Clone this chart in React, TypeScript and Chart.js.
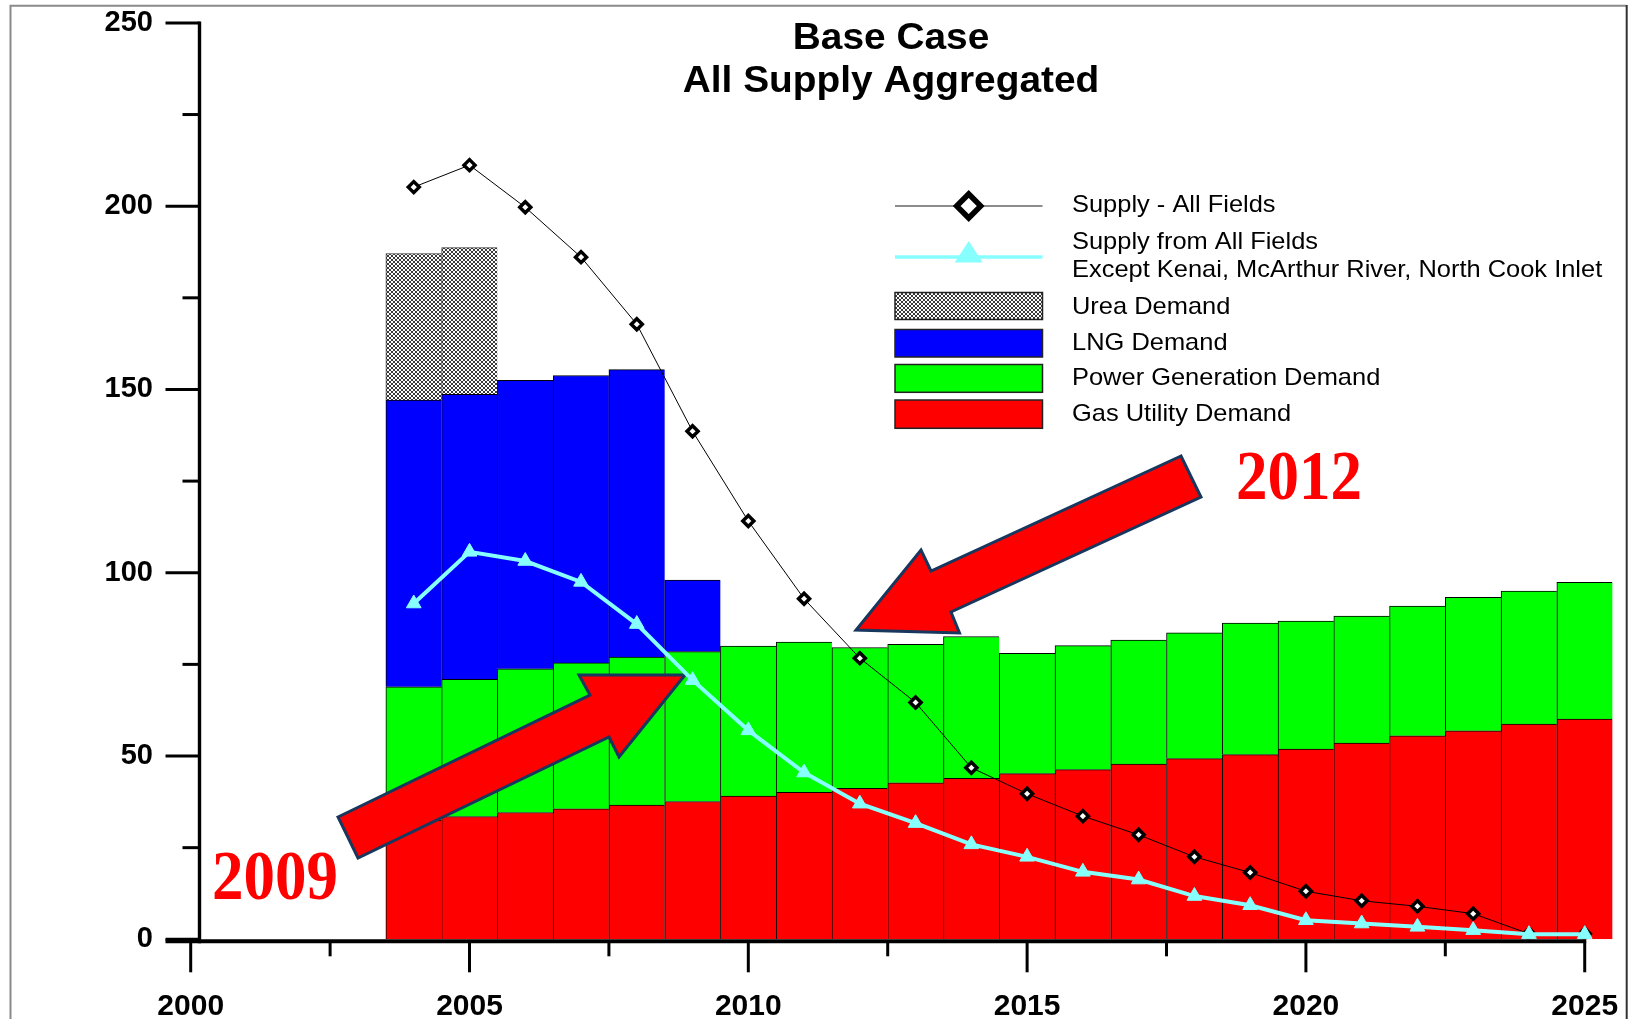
import React, { useEffect, useRef } from 'react';
import { Chart, registerables } from 'chart.js';

Chart.register(...registerables);

// ---------------- data ----------------
const YEARS = [2004, 2005, 2006, 2007, 2008, 2009, 2010, 2011, 2012, 2013, 2014, 2015, 2016, 2017, 2018, 2019, 2020, 2021, 2022, 2023, 2024, 2025];

const GAS_UTILITY_DEMAND = [32.5, 33.5, 34.6, 35.6, 36.6, 37.6, 39.1, 40.1, 41.2, 42.7, 43.9, 45.2, 46.3, 47.8, 49.3, 50.4, 51.9, 53.5, 55.5, 56.9, 58.7, 60.1];
const POWER_GENERATION_DEMAND = [36.4, 37.4, 39.2, 39.8, 40.4, 40.9, 40.9, 41.0, 38.4, 37.8, 38.7, 32.8, 33.8, 33.8, 34.3, 35.9, 34.9, 34.7, 35.4, 36.4, 36.3, 37.3];
const LNG_DEMAND = [78.2, 77.8, 78.7, 78.4, 78.4, 19.5, null, null, null, null, null, null, null, null, null, null, null, null, null, null, null, null];
const UREA_DEMAND = [40.0, 40.0, null, null, null, null, null, null, null, null, null, null, null, null, null, null, null, null, null, null, null, null];

const SUPPLY_ALL_FIELDS = [205.2, 211.2, 199.7, 186.1, 167.8, 138.6, 114.1, 92.9, 76.7, 64.6, 46.8, 39.7, 33.6, 28.5, 22.5, 18.2, 13.1, 10.5, 9.0, 7.0, 1.5, 1.5];
const SUPPLY_EXCEPT = [91.6, 105.7, 103.2, 97.5, 86.0, 70.7, 57.0, 45.5, 37.0, 31.7, 25.9, 22.5, 18.4, 16.3, 11.8, 9.3, 5.2, 4.3, 3.4, 2.5, 1.4, 1.4];

const X_TICKS = [2000, 2005, 2010, 2015, 2020, 2025];
const X_MINOR_TICKS = [2002.5, 2007.5, 2012.5, 2017.5, 2022.5];
const Y_TICKS = [0, 50, 100, 150, 200, 250];
const Y_MINOR_TICKS = [25, 75, 125, 175, 225];

const TITLE_LINES = ['Base Case', 'All Supply Aggregated'];
const LABEL_SUPPLY_ALL = 'Supply - All Fields';
const LABEL_SUPPLY_EXCEPT = ['Supply from All Fields', 'Except Kenai, McArthur River, North Cook Inlet'];
const LABEL_UREA = 'Urea Demand';
const LABEL_LNG = 'LNG Demand';
const LABEL_POWER = 'Power Generation Demand';
const LABEL_GAS = 'Gas Utility Demand';
const NOTE_2009 = '2009';
const NOTE_2012 = '2012';

// ---------------- styles ----------------
const RED = '#FF0000';
const GREEN = '#00FF00';
const BLUE = '#0000FF';
const CYAN = '#88FFFF';
const ARROW_EDGE = '#17375E';
const SANS = '"Liberation Sans", Arial, sans-serif';
const SERIF = '"Liberation Serif", "Times New Roman", serif';

const W = 1632;
const H = 1019;

// annotation arrows (page pixels)
const ARROW_A: [number, number][] = [[338, 817], [590, 695], [579, 675], [685, 675], [619, 757], [609, 737], [358, 858]];
const ARROW_B: [number, number][] = [[1181, 456], [931, 571], [921, 550], [856, 630], [959.5, 633], [951, 612], [1201, 497]];

function toPts(vals: (number | null)[]) {
  return YEARS.map((x, i) => ({ x, y: vals[i] }));
}

function makeHatch(ctx: CanvasRenderingContext2D) {
  const pc = document.createElement('canvas');
  pc.width = 4;
  pc.height = 4;
  const p = pc.getContext('2d')!;
  p.fillStyle = '#ffffff';
  p.fillRect(0, 0, 4, 4);
  p.fillStyle = '#3a3a3a';
  for (let i = 0; i < 4; i++) {
    p.fillRect(i, i, 1, 1);
    p.fillRect(3 - i, i, 1, 1);
  }
  return ctx.createPattern(pc, 'repeat')!;
}

function polygon(ctx: CanvasRenderingContext2D, pts: [number, number][]) {
  ctx.beginPath();
  pts.forEach(([x, y], i) => (i ? ctx.lineTo(x, y) : ctx.moveTo(x, y)));
  ctx.closePath();
  ctx.fillStyle = RED;
  ctx.fill();
  ctx.lineWidth = 3;
  ctx.lineJoin = 'miter';
  ctx.strokeStyle = ARROW_EDGE;
  ctx.stroke();
}

function scaledText(ctx: CanvasRenderingContext2D, text: string, x: number, y: number, sx: number, sy = 1) {
  ctx.save();
  ctx.translate(x, y);
  ctx.scale(sx, sy);
  ctx.fillText(text, 0, 0);
  ctx.restore();
}

export default function App() {
  const ref = useRef<HTMLCanvasElement | null>(null);

  useEffect(() => {
    document.body.style.margin = '0';
    document.body.style.overflow = 'hidden';
    const canvas = ref.current!;
    const ctx0 = canvas.getContext('2d')!;
    const hatch = makeHatch(ctx0);

    const overlay = {
      id: 'overlay',
      beforeDatasetsDraw(chart: any) {
        chart.$arrowsDone = false;
      },
      beforeDatasetDraw(chart: any, args: any) {
        if (!chart.$arrowsDone && args.meta.type === 'line') {
          const ctx = chart.ctx as CanvasRenderingContext2D;
          ctx.save();
          polygon(ctx, ARROW_A);
          polygon(ctx, ARROW_B);
          ctx.restore();
          chart.$arrowsDone = true;
        }
      },
      afterDraw(chart: any) {
        const ctx = chart.ctx as CanvasRenderingContext2D;
        const xs = chart.scales.x;
        const ys = chart.scales.y;
        const area = chart.chartArea;
        ctx.save();

        // axes
        const axisX = area.left + 8.8;
        const base = area.bottom;
        ctx.strokeStyle = '#000';
        ctx.lineCap = 'butt';
        ctx.lineWidth = 3.4;
        ctx.beginPath();
        ctx.moveTo(axisX, ys.getPixelForValue(250) - 1.5);
        ctx.lineTo(axisX, base + 4);
        ctx.stroke();
        ctx.lineWidth = 3;
        Y_TICKS.forEach((v) => {
          const y = ys.getPixelForValue(v);
          ctx.beginPath();
          ctx.moveTo(axisX - 34, y);
          ctx.lineTo(axisX, y);
          ctx.stroke();
        });
        Y_MINOR_TICKS.forEach((v) => {
          const y = ys.getPixelForValue(v);
          ctx.beginPath();
          ctx.moveTo(axisX - 17, y);
          ctx.lineTo(axisX, y);
          ctx.stroke();
        });
        ctx.lineWidth = 4;
        ctx.beginPath();
        ctx.moveTo(axisX - 34, base + 2);
        ctx.lineTo(xs.getPixelForValue(2025) + 1.5, base + 2);
        ctx.stroke();
        ctx.lineWidth = 3;
        X_TICKS.forEach((v) => {
          const x = xs.getPixelForValue(v);
          ctx.beginPath();
          ctx.moveTo(x, base + 2);
          ctx.lineTo(x, base + 33);
          ctx.stroke();
        });
        X_MINOR_TICKS.forEach((v) => {
          const x = xs.getPixelForValue(v);
          ctx.beginPath();
          ctx.moveTo(x, base + 2);
          ctx.lineTo(x, base + 17);
          ctx.stroke();
        });

        // title
        ctx.fillStyle = '#000';
        ctx.textAlign = 'center';
        ctx.textBaseline = 'alphabetic';
        ctx.font = `bold 37px ${SANS}`;
        scaledText(ctx, TITLE_LINES[0], 891, 48.5, 1.05);
        scaledText(ctx, TITLE_LINES[1], 891, 91.5, 1.05);

        // legend
        const lx0 = 895, lx1 = 1042.5, lxm = 968.7, tx = 1072;
        const r1 = 206;
        ctx.strokeStyle = '#666';
        ctx.lineWidth = 1.5;
        ctx.beginPath();
        ctx.moveTo(lx0, r1);
        ctx.lineTo(lx1, r1);
        ctx.stroke();
        ctx.beginPath();
        ctx.moveTo(lxm - 12, r1);
        ctx.lineTo(lxm, r1 - 12);
        ctx.lineTo(lxm + 12, r1);
        ctx.lineTo(lxm, r1 + 12);
        ctx.closePath();
        ctx.fillStyle = '#fff';
        ctx.fill();
        ctx.lineWidth = 5.5;
        ctx.strokeStyle = '#000';
        ctx.stroke();

        ctx.strokeStyle = CYAN;
        ctx.lineWidth = 3.5;
        ctx.beginPath();
        ctx.moveTo(lx0, 257);
        ctx.lineTo(lx1, 257);
        ctx.stroke();
        ctx.beginPath();
        ctx.moveTo(lxm, 241);
        ctx.lineTo(lxm + 14, 262.5);
        ctx.lineTo(lxm - 14, 262.5);
        ctx.closePath();
        ctx.fillStyle = CYAN;
        ctx.fill();

        const boxes: [number, number, any][] = [
          [292.5, 319.5, hatch],
          [329.5, 357, BLUE],
          [364.5, 392.3, GREEN],
          [400, 428.3, RED],
        ];
        boxes.forEach(([y0, y1, fill]) => {
          ctx.fillStyle = fill;
          ctx.fillRect(lx0, y0, lx1 - lx0, y1 - y0);
          ctx.strokeStyle = '#222';
          ctx.lineWidth = 1.5;
          ctx.strokeRect(lx0, y0, lx1 - lx0, y1 - y0);
        });

        ctx.fillStyle = '#000';
        ctx.textAlign = 'left';
        ctx.textBaseline = 'middle';
        ctx.font = `24px ${SANS}`;
        const legendRows: [string, number][] = [
          [LABEL_SUPPLY_ALL, 205],
          [LABEL_SUPPLY_EXCEPT[0], 242.5],
          [LABEL_SUPPLY_EXCEPT[1], 270.5],
          [LABEL_UREA, 307.5],
          [LABEL_LNG, 343],
          [LABEL_POWER, 378.5],
          [LABEL_GAS, 414.5],
        ];
        legendRows.forEach(([t, y]) => scaledText(ctx, t, tx, y, 1.06));

        // annotations
        ctx.fillStyle = RED;
        ctx.textBaseline = 'alphabetic';
        ctx.textAlign = 'left';
        ctx.font = `bold 63px ${SERIF}`;
        scaledText(ctx, NOTE_2009, 212, 899, 1, 1.1);
        scaledText(ctx, NOTE_2012, 1236, 499, 1, 1.1);

        // frame
        ctx.lineWidth = 2;
        ctx.strokeStyle = '#8a8a8a';
        ctx.beginPath();
        ctx.moveTo(10.5, H + 5);
        ctx.lineTo(10.5, 5.7);
        ctx.lineTo(1626.5, 5.7);
        ctx.stroke();
        ctx.strokeStyle = '#333';
        ctx.beginPath();
        ctx.moveTo(1626.7, 5);
        ctx.lineTo(1626.7, H + 5);
        ctx.stroke();

        ctx.restore();
      },
    };

    const barBorder = { top: 1, left: 1, right: 0, bottom: 0 };
    const chart = new Chart(canvas, {
      type: 'bar',
      data: {
        datasets: [
          {
            type: 'line',
            label: LABEL_SUPPLY_EXCEPT.join(' '),
            data: toPts(SUPPLY_EXCEPT),
            stack: 'supplyExcept',
            borderColor: CYAN,
            borderWidth: 4,
            tension: 0,
            pointStyle: 'triangle',
            pointRadius: 8.5,
            pointBackgroundColor: CYAN,
            pointBorderColor: CYAN,
            pointBorderWidth: 1,
          } as any,
          {
            type: 'line',
            label: LABEL_SUPPLY_ALL,
            data: toPts(SUPPLY_ALL_FIELDS),
            stack: 'supplyAll',
            borderColor: '#000',
            borderWidth: 1,
            tension: 0,
            pointStyle: 'rectRot',
            pointRadius: 5.5,
            pointBackgroundColor: '#fff',
            pointBorderColor: '#000',
            pointBorderWidth: 3.5,
          } as any,
          {
            label: LABEL_GAS,
            data: toPts(GAS_UTILITY_DEMAND),
            stack: 'demand',
            backgroundColor: RED,
            borderColor: '#000',
            borderWidth: barBorder,
            borderSkipped: false,
          } as any,
          {
            label: LABEL_POWER,
            data: toPts(POWER_GENERATION_DEMAND),
            stack: 'demand',
            backgroundColor: GREEN,
            borderColor: '#000',
            borderWidth: barBorder,
            borderSkipped: false,
          } as any,
          {
            label: LABEL_LNG,
            data: toPts(LNG_DEMAND),
            stack: 'demand',
            backgroundColor: BLUE,
            borderColor: '#000',
            borderWidth: barBorder,
            borderSkipped: false,
          } as any,
          {
            label: LABEL_UREA,
            data: toPts(UREA_DEMAND),
            stack: 'demand',
            backgroundColor: hatch,
            borderColor: '#333',
            borderWidth: barBorder,
            borderSkipped: false,
          } as any,
        ],
      },
      options: {
        responsive: false,
        animation: false,
        events: [],
        layout: { autoPadding: false, padding: { left: 0, right: W - 1612.6, top: 22.9, bottom: 0 } },
        datasets: { bar: { barPercentage: 1, categoryPercentage: 1 } },
        plugins: {
          legend: { display: false },
          tooltip: { enabled: false },
          title: { display: false },
        },
        scales: {
          x: {
            type: 'linear',
            min: 2000,
            max: 2025.5,
            offset: false,
            stacked: true,
            grid: { display: false, drawTicks: false, tickLength: 0 },
            border: { display: false },
            afterBuildTicks: (s: any) => {
              s.ticks = X_TICKS.map((v) => ({ value: v }));
            },
            afterFit: (s: any) => {
              s.height = H - 939.3;
              s.paddingLeft = 0;
              s.paddingRight = 0;
            },
            ticks: {
              autoSkip: false,
              maxRotation: 0,
              padding: 49.5,
              color: '#000',
              font: { family: SANS, size: 30, weight: 'bold' },
              callback: (v: any) => String(v),
            },
          },
          y: {
            min: 0,
            max: 250,
            stacked: true,
            grid: { display: false, drawTicks: false, tickLength: 0 },
            border: { display: false },
            afterBuildTicks: (s: any) => {
              s.ticks = Y_TICKS.map((v) => ({ value: v }));
            },
            afterFit: (s: any) => {
              s.width = 190.7;
              s.paddingTop = 0;
              s.paddingBottom = 0;
            },
            ticks: {
              padding: 37.7,
              color: '#000',
              font: { family: SANS, size: 29, weight: 'bold' },
              callback: (v: any) => String(v),
            },
          },
        },
      } as any,
      plugins: [overlay as any],
    });

    return () => chart.destroy();
  }, []);

  return (
    <div style={{ width: W, height: H, background: '#fff' }}>
      <canvas ref={ref} width={W} height={H} style={{ display: 'block' }} />
    </div>
  );
}
